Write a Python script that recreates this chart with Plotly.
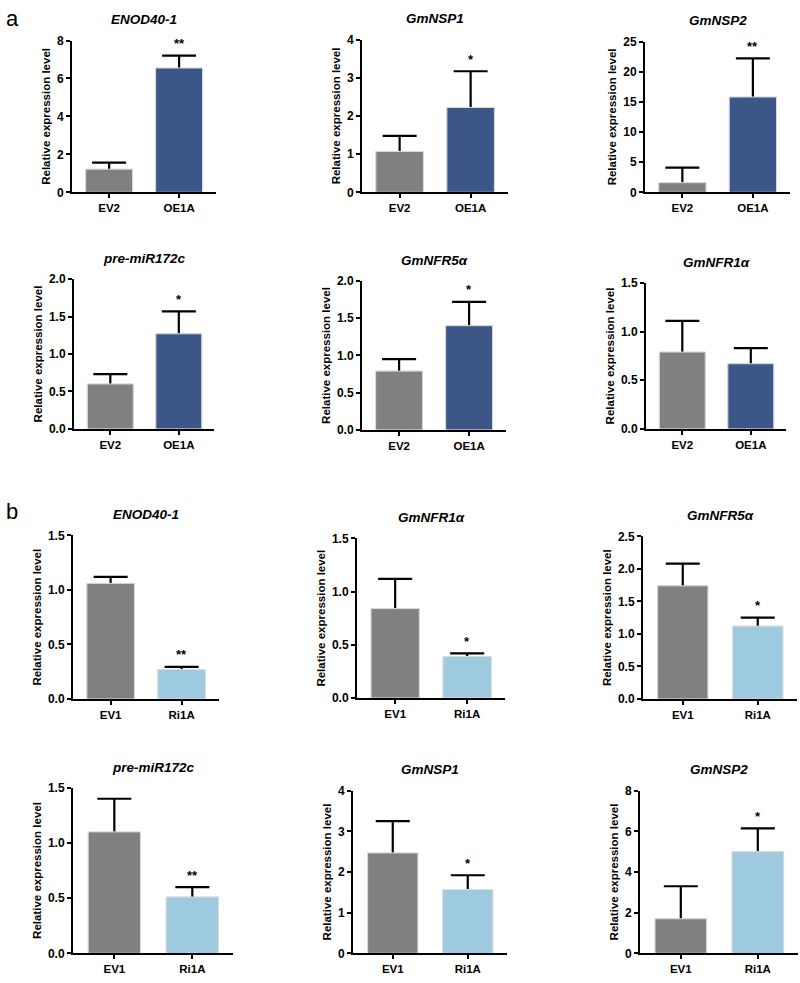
import plotly.graph_objects as go

# ---------------- data ----------------
groups_a = ["EV2", "OE1A"]
groups_b = ["EV1", "Ri1A"]

titles_a = ["ENOD40-1", "GmNSP1", "GmNSP2", "pre-miR172c", "GmNFR5α", "GmNFR1α"]
means_a = [[1.22, 6.55], [1.07, 2.22], [1.6, 15.8], [0.6, 1.27], [0.79, 1.4], [0.79, 0.67]]
errs_a = [[0.35, 0.65], [0.41, 0.95], [2.5, 6.4], [0.13, 0.3], [0.16, 0.32], [0.32, 0.16]]
sig_a = [["", "**"], ["", "*"], ["", "**"], ["", "*"], ["", "*"], ["", ""]]
ymax_a = [8, 4, 25, 2.0, 2.0, 1.5]
dtick_a = [2, 1, 5, 0.5, 0.5, 0.5]

titles_b = ["ENOD40-1", "GmNFR1α", "GmNFR5α", "pre-miR172c", "GmNSP1", "GmNSP2"]
means_b = [[1.06, 0.27], [0.84, 0.39], [1.74, 1.12], [1.1, 0.51], [2.47, 1.57], [1.7, 5.0]]
errs_b = [[0.06, 0.025], [0.28, 0.03], [0.34, 0.13], [0.3, 0.09], [0.78, 0.35], [1.6, 1.15]]
sig_b = [["", "**"], ["", "*"], ["", "*"], ["", "**"], ["", "*"], ["", "*"]]
ymax_b = [1.5, 1.5, 2.5, 1.5, 4, 8]
dtick_b = [0.5, 0.5, 0.5, 0.5, 1, 2]

# ---------------- layout geometry (pixels) ----------------
W, H = 800, 983
# (axis x, category spacing, y of top tick, y of zero)
geom_a = [(72, 70, 34, 188), (362, 71, 33, 188), (645, 70.5, 35, 188),
          (74, 68.5, 276, 428), (362, 70, 278, 429), (646, 68.5, 280, 428)]
geom_b = [(73, 71, 536, 702), (357, 72, 539, 701), (643, 75, 537, 702),
          (73, 78, 792, 960), (353, 75, 795, 960), (640, 77, 795, 960)]
LEFT, RIGHT = -0.53, 1.52

GREY = "#808080"
DARK_BLUE = "#3c5687"
LIGHT_BLUE = "#9dcade"
FONT = "Liberation Sans, Arial, sans-serif"

fig = go.Figure()
layout = dict(width=W, height=H, margin=dict(l=0, r=0, t=0, b=0),
              paper_bgcolor="white", plot_bgcolor="white", showlegend=False,
              barmode="overlay", annotations=[])

panels = []
for i in range(6):
    panels.append((titles_a[i], groups_a, means_a[i], errs_a[i], sig_a[i], ymax_a[i], dtick_a[i], geom_a[i], DARK_BLUE))
for i in range(6):
    panels.append((titles_b[i], groups_b, means_b[i], errs_b[i], sig_b[i], ymax_b[i], dtick_b[i], geom_b[i], LIGHT_BLUE))

for k, (title, groups, means, errs, sig, ymax, dtick, g, col2) in enumerate(panels):
    n = k + 1
    xa = "x" if n == 1 else f"x{n}"
    ya = "y" if n == 1 else f"y{n}"
    x0, s, ytop, yzero = g
    x1 = x0 + s * (RIGHT - LEFT)
    bar_marker = dict(color=[GREY, col2], line=dict(color="#dcdcdc", width=1))
    # bar carrying symmetric error bars (lower half hidden by the bar drawn on top)
    fig.add_trace(go.Bar(
        x=groups, y=means, xaxis=xa, yaxis=ya, width=0.67, marker=bar_marker,
        error_y=dict(type="data", array=errs, symmetric=True,
                     color="black", thickness=2.2, width=17),
    ))
    fig.add_trace(go.Bar(
        x=groups, y=means, xaxis=xa, yaxis=ya, width=0.67, marker=bar_marker,
        hoverinfo="skip",
    ))
    fmt = ".1f" if dtick < 1 else "d"
    layout["xaxis" if n == 1 else f"xaxis{n}"] = dict(
        domain=[x0 / W, x1 / W], anchor=ya, type="category", range=[LEFT, RIGHT],
        showline=True, linecolor="black", linewidth=2, ticks="outside", ticklen=4,
        tickwidth=2, tickcolor="black", showgrid=False, zeroline=False,
        tickfont=dict(family=FONT, size=11.5, color="black", weight="bold"), fixedrange=True)
    layout["yaxis" if n == 1 else f"yaxis{n}"] = dict(
        domain=[1 - yzero / H, 1 - ytop / H], anchor=xa, range=[0, ymax],
        dtick=dtick, tick0=0, tickformat=fmt,
        showline=True, linecolor="black", linewidth=2, ticks="outside", ticklen=4,
        tickwidth=2, tickcolor="black", showgrid=False, zeroline=False,
        tickfont=dict(family=FONT, size=12, color="black", weight="bold"),
        title=dict(text="Relative expression level", standoff=4,
                   font=dict(family=FONT, size=11.5, color="black", weight="bold")),
        fixedrange=True)
    # panel title
    cx = x0 + s * (0.5 - LEFT)
    layout["annotations"].append(dict(
        xref="paper", yref="paper", x=cx / W, y=1 - (ytop - 21) / H,
        text=f"<b><i>{title}</i></b>", showarrow=False, xanchor="center", yanchor="middle",
        font=dict(family=FONT, size=13.5, color="black")))
    # significance
    for j, txt in enumerate(sig):
        if txt:
            layout["annotations"].append(dict(
                xref=xa, yref=ya, x=groups[j], y=means[j] + errs[j], yshift=12,
                text=f"<b>{txt}</b>", showarrow=False, xanchor="center", yanchor="middle",
                font=dict(family=FONT, size=13, color="black")))

# panel letters
layout["annotations"].append(dict(xref="paper", yref="paper", x=4 / W, y=1 - 12 / H,
                                  text="a", showarrow=False, xanchor="left", yanchor="middle",
                                  font=dict(family=FONT, size=22, color="black")))
layout["annotations"].append(dict(xref="paper", yref="paper", x=4 / W, y=1 - 512 / H,
                                  text="b", showarrow=False, xanchor="left", yanchor="middle",
                                  font=dict(family=FONT, size=22, color="black")))

fig.update_layout(**layout)
fig.write_html("out.html")
